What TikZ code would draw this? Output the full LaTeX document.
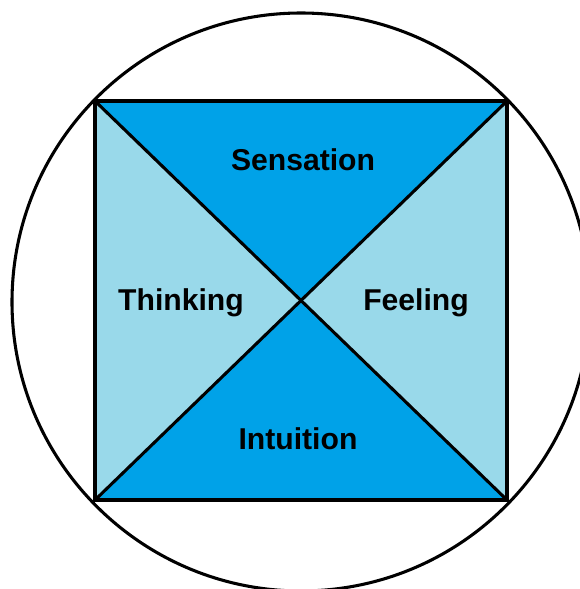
\documentclass[tikz,border=0pt]{standalone}
\usepackage{fontspec}
\setmainfont{Liberation Sans}
\definecolor{darkblue}{RGB}{0,162,232}
\definecolor{lightblue}{RGB}{153,217,234}
\begin{document}
\begin{tikzpicture}[x=0.75pt,y=-0.75pt,
  edge/.style={line width=2.3pt,line join=miter},
  lbl/.style={font=\bfseries\fontsize{22.6}{26}\selectfont,inner sep=0pt}]
\useasboundingbox (0,0) rectangle (579,589);
\coordinate (tl) at (95,101);
\coordinate (tr) at (507,101);
\coordinate (bl) at (95,500);
\coordinate (br) at (507,500);
\coordinate (c) at (301,301);
\fill[darkblue] (tl) -- (tr) -- (c) -- cycle;
\fill[darkblue] (bl) -- (br) -- (c) -- cycle;
\fill[lightblue] (tl) -- (bl) -- (c) -- cycle;
\fill[lightblue] (tr) -- (br) -- (c) -- cycle;
\draw[edge] (tl) -- (tr) -- (br) -- (bl) -- cycle;
\draw[edge] (tl) -- (br);
\draw[edge] (tr) -- (bl);
\draw[line width=2.3pt] (301,302) circle[radius=289];
\node[lbl] (sens) at (303,160) {Sensation};
\node[lbl] (think) at (181,303) {Thinking};
\node[lbl] (feel) at (416,303) {Feeling};
\node[lbl] (intu) at (298,439) {Intuition};
\end{tikzpicture}
\end{document}
